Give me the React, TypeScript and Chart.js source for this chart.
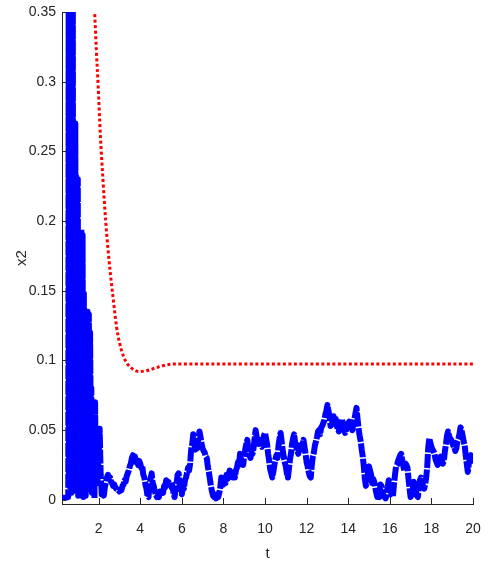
import React, { useEffect, useRef } from 'react';
import { Chart, registerables } from 'chart.js';

Chart.register(...registerables);

// Stochastic path x2(t), burst part (t < 2), irregular sample times
const burstT = [
  0.24, 0.40, 0.54, 0.56, 0.58, 0.60, 0.62, 0.64, 0.66, 0.68, 0.70, 0.72, 0.74, 0.76, 0.78, 0.80,
  0.82, 0.84, 0.86, 0.88, 0.90, 0.92, 0.94, 0.96, 0.98, 1.00, 1.02, 1.05, 1.08, 1.11, 1.14, 1.17,
  1.20, 1.23, 1.26, 1.29, 1.32, 1.35, 1.38, 1.41, 1.44, 1.47, 1.50, 1.53, 1.56, 1.59, 1.62, 1.65,
  1.68, 1.71, 1.74, 1.77, 1.80, 1.83, 1.86, 1.90, 1.94, 1.98,
];
const burstX2 = [
  0.0015, 0.0015, 0.002, 0.36, 0.01, 0.40, 0.03, 0.42, 0.06, 0.39, 0.005, 0.41, 0.09, 0.38, 0.02, 0.27,
  0.05, 0.26, 0.004, 0.27, 0.07, 0.232, 0.01, 0.225, 0.04, 0.23, 0.003, 0.165, 0.02, 0.16, 0.005, 0.194,
  0.03, 0.19, 0.002, 0.148, 0.04, 0.12, 0.003, 0.10, 0.02, 0.135, 0.008, 0.133, 0.05, 0.12, 0.06, 0.08,
  0.005, 0.06, 0.02, 0.045, 0.001, 0.07, 0.02, 0.03, 0.012, 0.025,
];

// Stochastic path x2(t) for t = 2.00, 2.05, ..., 20.00 (one row per unit of t)
const PATH_T0 = 2.0;
const PATH_DT = 0.05;
const pathX2 = [
  0.030, 0.051, 0.018, 0.004, 0.010, 0.003, 0.009, 0.013, 0.016, 0.018, 0.015, 0.016, 0.013, 0.012, 0.010, 0.011, 0.009, 0.008, 0.0075, 0.007,
  0.006, 0.0075, 0.007, 0.010, 0.011, 0.014, 0.013, 0.017, 0.019, 0.021, 0.024, 0.026, 0.030, 0.032, 0.029, 0.031, 0.027, 0.028, 0.025, 0.028,
  0.026, 0.023, 0.024, 0.018, 0.016, 0.011, 0.008, 0.003, 0.002, 0.011, 0.015, 0.019, 0.012, 0.010, 0.006, 0.004, 0.002, 0.003, 0.002, 0.006,
  0.004, 0.006, 0.005, 0.010, 0.009, 0.014, 0.011, 0.013, 0.012, 0.013, 0.009, 0.010, 0.005, 0.002, 0.008, 0.012, 0.018, 0.019, 0.009, 0.005,
  0.004, 0.010, 0.008, 0.014, 0.016, 0.019, 0.023, 0.021, 0.026, 0.036, 0.040, 0.047, 0.040, 0.036, 0.039, 0.037, 0.044, 0.049, 0.045, 0.040,
  0.037, 0.035, 0.034, 0.031, 0.030, 0.024, 0.020, 0.015, 0.010, 0.006, 0.003, 0.002, 0.004, 0.001, 0.003, 0.002, 0.005, 0.009, 0.016, 0.012,
  0.011, 0.015, 0.012, 0.018, 0.015, 0.017, 0.021, 0.017, 0.019, 0.016, 0.020, 0.016, 0.021, 0.023, 0.027, 0.025, 0.033, 0.030, 0.027, 0.025,
  0.031, 0.036, 0.040, 0.043, 0.037, 0.032, 0.030, 0.034, 0.033, 0.037, 0.044, 0.050, 0.045, 0.043, 0.040, 0.043, 0.039, 0.038, 0.043, 0.046,
  0.048, 0.044, 0.040, 0.033, 0.028, 0.022, 0.019, 0.016, 0.020, 0.025, 0.029, 0.032, 0.030, 0.039, 0.044, 0.048, 0.042, 0.036, 0.031, 0.027,
  0.024, 0.019, 0.016, 0.022, 0.029, 0.033, 0.040, 0.044, 0.047, 0.041, 0.038, 0.036, 0.033, 0.038, 0.041, 0.036, 0.039, 0.043, 0.038, 0.033,
  0.027, 0.024, 0.020, 0.017, 0.016, 0.025, 0.031, 0.034, 0.039, 0.042, 0.045, 0.049, 0.050, 0.047, 0.052, 0.053, 0.055, 0.057, 0.061, 0.064,
  0.068, 0.064, 0.060, 0.053, 0.054, 0.056, 0.060, 0.057, 0.058, 0.053, 0.051, 0.049, 0.053, 0.055, 0.058, 0.054, 0.051, 0.048, 0.050, 0.053,
  0.055, 0.056, 0.054, 0.052, 0.050, 0.055, 0.058, 0.062, 0.066, 0.058, 0.051, 0.046, 0.042, 0.036, 0.031, 0.024, 0.015, 0.010, 0.013, 0.019,
  0.024, 0.021, 0.018, 0.012, 0.015, 0.013, 0.009, 0.005, 0.002, 0.003, 0.002, 0.011, 0.010, 0.006, 0.003, 0.002, 0.001, 0.005, 0.009, 0.014,
  0.010, 0.006, 0.003, 0.002, 0.011, 0.018, 0.024, 0.025, 0.028, 0.030, 0.032, 0.033, 0.028, 0.024, 0.021, 0.026, 0.025, 0.023, 0.015, 0.008,
  0.002, 0.004, 0.007, 0.013, 0.010, 0.007, 0.003, 0.002, 0.009, 0.014, 0.016, 0.012, 0.010, 0.008, 0.011, 0.016, 0.024, 0.038, 0.044, 0.041,
  0.038, 0.036, 0.035, 0.033, 0.029, 0.027, 0.025, 0.027, 0.029, 0.031, 0.028, 0.026, 0.028, 0.035, 0.040, 0.046, 0.049, 0.046, 0.044, 0.043,
  0.041, 0.039, 0.038, 0.035, 0.037, 0.042, 0.044, 0.047, 0.052, 0.050, 0.046, 0.042, 0.039, 0.032, 0.026, 0.020, 0.026, 0.030, 0.032, 0.028,
  0.029,
];

// Deterministic solution x2(t) (red dotted)
const redT = [1.72, 1.81, 1.89, 1.98, 2.08, 2.21, 2.34, 2.50, 2.69, 2.87, 3.01, 3.17, 3.30, 3.42, 3.58, 3.75, 3.98, 4.20, 4.46, 4.70, 4.95, 5.20, 5.43, 5.70, 6.00, 8.00, 10.00, 12.00, 14.00, 16.00, 18.00, 20.00];
const redX2 = [0.38, 0.350, 0.323, 0.2965, 0.263, 0.2296, 0.2001, 0.172, 0.1458, 0.1235, 0.1124, 0.104, 0.0995, 0.0968, 0.0945, 0.0928, 0.092, 0.0924, 0.0933, 0.0945, 0.0956, 0.0966, 0.0972, 0.0974, 0.0974, 0.0974, 0.0974, 0.0974, 0.0974, 0.0974, 0.0974, 0.0974];

const xTickValues = [2, 4, 6, 8, 10, 12, 14, 16, 18, 20];
const yTickValues = [0, 0.05, 0.1, 0.15, 0.2, 0.25, 0.3, 0.35];
const xTitle = 't';
const yTitle = 'x2';

const AXIS_COLOR = '#262626';
const FONT = "'Liberation Sans', Arial, Helvetica, sans-serif";

const innerTicks = {
  id: 'innerTicks',
  afterDatasetsDraw(chart: any) {
    const { ctx, chartArea, scales } = chart;
    ctx.save();
    ctx.strokeStyle = AXIS_COLOR;
    ctx.lineWidth = 1;
    scales.x.ticks.forEach((t: any) => {
      const px = Math.round(scales.x.getPixelForValue(t.value)) + 0.5;
      ctx.beginPath();
      ctx.moveTo(px, chartArea.bottom);
      ctx.lineTo(px, chartArea.bottom - 6);
      ctx.stroke();
    });
    scales.y.ticks.forEach((t: any) => {
      const py = Math.round(scales.y.getPixelForValue(t.value)) + 0.5;
      ctx.beginPath();
      ctx.moveTo(chartArea.left, py);
      ctx.lineTo(chartArea.left + 4, py);
      ctx.stroke();
    });
    ctx.restore();
  },
};

export default function App() {
  const canvasRef = useRef<HTMLCanvasElement | null>(null);

  useEffect(() => {
    if (!canvasRef.current) return;
    const bluePoints = [
      ...burstT.map((t, i) => ({ x: t, y: burstX2[i] })),
      ...pathX2.map((v, i) => ({ x: +(PATH_T0 + i * PATH_DT).toFixed(2), y: v })),
    ];
    const chart = new Chart(canvasRef.current, {
      type: 'line',
      data: {
        datasets: [
          {
            label: 'stochastic',
            data: bluePoints,
            borderColor: '#0000ff',
            borderWidth: 6,
            borderDash: [14, 1.5],
            borderJoinStyle: 'round',
            borderCapStyle: 'butt',
            pointRadius: 0,
            tension: 0,
            fill: false,
          },
          {
            label: 'deterministic',
            data: redT.map((t, i) => ({ x: t, y: redX2[i] })),
            borderColor: '#ff0000',
            borderWidth: 3,
            borderDash: [3, 2.5],
            pointRadius: 0,
            cubicInterpolationMode: 'monotone',
            fill: false,
          },
        ],
      },
      options: {
        responsive: false,
        animation: false,
        layout: { padding: { top: 12, right: 13, left: 0, bottom: 0 } },
        plugins: { legend: { display: false }, tooltip: { enabled: false } },
        scales: {
          x: {
            type: 'linear',
            min: 0.24,
            max: 20,
            afterBuildTicks: (s: any) => {
              s.ticks = xTickValues.map((v) => ({ value: v }));
            },
            afterFit: (s: any) => {
              s.height = 65;
            },
            grid: { display: false, drawTicks: true, tickLength: 14 },
            border: { display: true, color: AXIS_COLOR, width: 1 },
            ticks: {
              color: AXIS_COLOR,
              font: { family: FONT, size: 14 },
              padding: 3,
              maxRotation: 0,
              autoSkip: false,
            },
            title: {
              display: true,
              text: xTitle,
              color: AXIS_COLOR,
              font: { family: FONT, size: 15 },
              padding: { top: 0, bottom: 6 },
            },
          },
          y: {
            type: 'linear',
            min: -0.003,
            max: 0.35,
            afterBuildTicks: (s: any) => {
              s.ticks = yTickValues.map((v) => ({ value: v }));
            },
            afterFit: (s: any) => {
              s.width = 62;
            },
            grid: { display: false, drawTicks: true, tickLength: 5 },
            border: { display: true, color: AXIS_COLOR, width: 1 },
            ticks: {
              color: AXIS_COLOR,
              font: { family: FONT, size: 14 },
              padding: 1,
              autoSkip: false,
              callback: (v: any) => String(+Number(v).toFixed(2)),
            },
            title: {
              display: true,
              text: yTitle,
              color: AXIS_COLOR,
              font: { family: FONT, size: 15 },
              padding: { top: 13, bottom: 0 },
            },
          },
        },
      },
      plugins: [innerTicks],
    });
    return () => chart.destroy();
  }, []);

  return (
    <div style={{ position: 'absolute', left: 0, top: 0, width: 486, height: 569, background: '#fff' }}>
      <canvas ref={canvasRef} width={486} height={569} />
    </div>
  );
}
